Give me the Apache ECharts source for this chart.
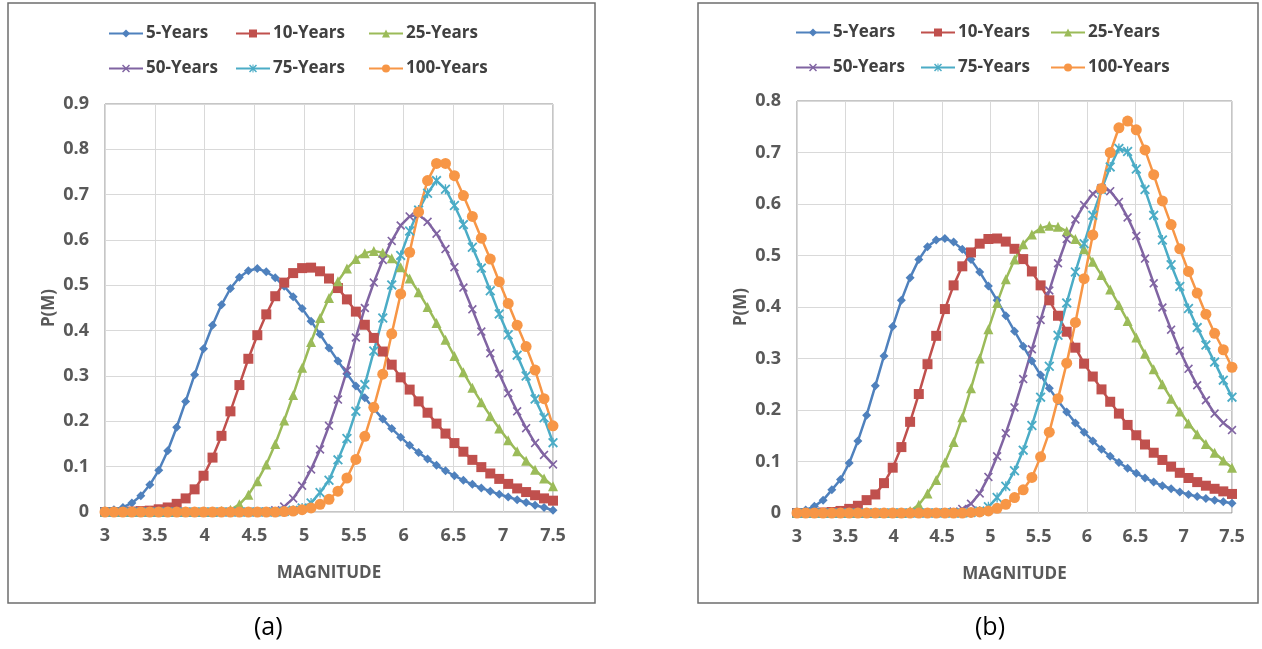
<!DOCTYPE html>
<html><head><meta charset="utf-8">
<script src="https://cdn.jsdelivr.net/npm/echarts@6/dist/echarts.min.js"></script>
<style>html,body{margin:0;padding:0;background:#fff;}#c{width:1262px;height:649px;}</style>
</head><body><div id="c"></div>
<script>
// Magnitude sample points
const magnitude = [3.00,3.09,3.18,3.27,3.36,3.45,3.54,3.63,3.72,3.81,3.90,3.99,4.08,4.17,4.26,4.35,4.44,4.53,4.62,4.71,4.80,4.89,4.98,5.07,5.16,5.25,5.34,5.43,5.52,5.61,5.70,5.79,5.88,5.97,6.06,6.15,6.24,6.33,6.42,6.51,6.60,6.69,6.78,6.87,6.96,7.05,7.14,7.23,7.32,7.41,7.50];
const seriesNames = ['5-Years','10-Years','25-Years','50-Years','75-Years','100-Years'];
const xTickLabels = ['3','3.5','4','4.5','5','5.5','6','6.5','7','7.5'];
const panelLabels = ['(a)','(b)'];

// Panel (a)
const a5   = [0.002,0.005,0.010,0.020,0.036,0.060,0.092,0.135,0.187,0.244,0.303,0.360,0.412,0.457,0.493,0.518,0.532,0.537,0.530,0.517,0.498,0.475,0.449,0.421,0.392,0.362,0.333,0.305,0.278,0.252,0.228,0.205,0.184,0.165,0.147,0.131,0.117,0.103,0.091,0.080,0.070,0.061,0.053,0.046,0.039,0.033,0.027,0.021,0.015,0.010,0.004];
const a10  = [0,0,0,0.001,0.002,0.003,0.006,0.010,0.018,0.030,0.050,0.080,0.120,0.168,0.222,0.280,0.338,0.390,0.436,0.476,0.506,0.527,0.538,0.539,0.531,0.515,0.494,0.469,0.442,0.413,0.384,0.354,0.325,0.297,0.270,0.244,0.219,0.195,0.173,0.152,0.133,0.115,0.099,0.085,0.073,0.062,0.052,0.044,0.037,0.030,0.025];
const a25  = [0,0,0,0,0,0,0,0,0,0,0,0,0,0.002,0.005,0.017,0.038,0.068,0.105,0.150,0.202,0.258,0.318,0.375,0.428,0.472,0.509,0.537,0.558,0.571,0.576,0.572,0.560,0.540,0.515,0.485,0.452,0.417,0.380,0.344,0.308,0.274,0.242,0.212,0.184,0.158,0.134,0.113,0.093,0.074,0.057];
const a50  = [0,0,0,0,0,0,0,0,0,0,0,0,0,0,0,0,0,0,0.001,0.004,0.012,0.030,0.058,0.094,0.138,0.190,0.248,0.312,0.385,0.450,0.506,0.556,0.598,0.632,0.652,0.656,0.640,0.614,0.580,0.540,0.495,0.447,0.398,0.350,0.305,0.262,0.222,0.185,0.152,0.126,0.105];
const a75  = [0,0,0,0,0,0,0,0,0,0,0,0,0,0,0,0,0,0,0,0,0.001,0.004,0.009,0.020,0.043,0.070,0.115,0.162,0.222,0.281,0.355,0.428,0.501,0.566,0.620,0.666,0.703,0.731,0.712,0.676,0.634,0.584,0.538,0.488,0.437,0.391,0.346,0.300,0.249,0.208,0.153];
const a100 = [0,0,0,0,0,0,0,0,0,0,0,0,0,0,0,0,0,0,0,0,0.001,0.002,0.005,0.009,0.017,0.028,0.046,0.075,0.116,0.167,0.231,0.304,0.393,0.481,0.573,0.662,0.731,0.769,0.769,0.742,0.698,0.652,0.604,0.558,0.508,0.460,0.412,0.365,0.313,0.250,0.190];

// Panel (b)
const b5   = [0.002,0.006,0.013,0.025,0.045,0.065,0.097,0.140,0.190,0.247,0.305,0.362,0.413,0.457,0.492,0.517,0.530,0.533,0.526,0.512,0.492,0.468,0.441,0.413,0.383,0.353,0.324,0.295,0.268,0.242,0.218,0.196,0.175,0.157,0.140,0.124,0.110,0.098,0.087,0.077,0.068,0.060,0.053,0.047,0.041,0.036,0.032,0.028,0.025,0.022,0.019];
const b10  = [0,0,0,0.001,0.002,0.004,0.008,0.014,0.025,0.036,0.058,0.088,0.128,0.177,0.231,0.289,0.344,0.396,0.442,0.479,0.506,0.523,0.532,0.533,0.527,0.513,0.493,0.469,0.442,0.413,0.383,0.352,0.321,0.290,0.265,0.240,0.216,0.193,0.171,0.151,0.133,0.117,0.103,0.090,0.078,0.068,0.060,0.053,0.047,0.042,0.037];
const b25  = [0,0,0,0,0,0,0,0,0,0,0,0,0,0.004,0.016,0.038,0.064,0.098,0.138,0.186,0.242,0.300,0.357,0.408,0.454,0.492,0.522,0.541,0.553,0.558,0.556,0.547,0.532,0.512,0.488,0.462,0.434,0.404,0.373,0.341,0.309,0.279,0.250,0.222,0.197,0.174,0.153,0.134,0.117,0.102,0.088];
const b50  = [0,0,0,0,0,0,0,0,0,0,0,0,0,0,0,0,0,0.001,0.003,0.008,0.018,0.038,0.070,0.110,0.155,0.205,0.260,0.318,0.375,0.432,0.485,0.532,0.570,0.598,0.620,0.631,0.625,0.604,0.574,0.538,0.494,0.446,0.399,0.356,0.315,0.280,0.248,0.219,0.193,0.175,0.161];
const b75  = [0,0,0,0,0,0,0,0,0,0,0,0,0,0,0,0,0,0,0,0,0.001,0.004,0.012,0.030,0.052,0.082,0.122,0.170,0.225,0.285,0.345,0.408,0.468,0.523,0.578,0.628,0.672,0.708,0.702,0.668,0.628,0.578,0.530,0.482,0.440,0.397,0.360,0.326,0.293,0.258,0.225];
const b100 = [0,0,0,0,0,0,0,0,0,0,0,0,0,0,0,0,0,0,0,0,0.001,0.002,0.004,0.009,0.017,0.030,0.045,0.069,0.109,0.157,0.222,0.291,0.370,0.455,0.540,0.630,0.700,0.748,0.761,0.744,0.705,0.657,0.606,0.560,0.513,0.469,0.427,0.386,0.349,0.317,0.283];

const colors = ['#4F81BD','#C0504D','#9BBB59','#8064A2','#4BACC6','#F79646'];
const XPATH = 'path://M0,1.3 L1.3,0 L5,3.7 L8.7,0 L10,1.3 L6.3,5 L10,8.7 L8.7,10 L5,6.3 L1.3,10 L0,8.7 L3.7,5 Z';
const STARPATH = XPATH.replace(' Z',' Z M4.35,0 L5.65,0 L5.65,10 L4.35,10 Z');
const symbols = ['diamond','rect','triangle',XPATH,STARPATH,'circle'];
const symSizes = [9,10,10,9,10,11];

const FONT = '"Open Sans", Lato, sans-serif';
const panelData = [[a5,a10,a25,a50,a75,a100],[b5,b10,b25,b50,b75,b100]];

const series = [];
panelData.forEach((arrs, p) => {
  arrs.forEach((vals, k) => {
    series.push({
      name: seriesNames[k], type: 'line', xAxisIndex: p, yAxisIndex: p,
      data: magnitude.map((m, i) => [m, vals[i]]),
      symbol: symbols[k], symbolSize: symSizes[k], showSymbol: true,
      lineStyle: { color: colors[k], width: 2.5 },
      itemStyle: { color: colors[k], borderWidth: 0 },
      emphasis: { disabled: true }, animation: false
    });
  });
});

// legends: one per item, placed in 2 rows x 3 columns per panel
const legendCols = [[108, 235, 368], [795, 920, 1050]];
const legendRows = [[25, 60], [24, 59]];
const legends = [];
[0,1].forEach(p => {
  seriesNames.forEach((nm, k) => {
    legends.push({
      data: [nm], left: legendCols[p][k % 3], top: legendRows[p][Math.floor(k / 3)],
      itemWidth: 34, itemHeight: 10, itemGap: 0, padding: 0, selectedMode: false,
      textStyle: { fontFamily: FONT, fontSize: 17, fontWeight: 'bold', color: '#404040', padding: [0,0,0,-2] }
    });
  });
});

function xAxisCfg(p) {
  return {
    gridIndex: p, type: 'value', min: 3, max: 7.5, interval: 0.5,
    axisLine: { show: false }, axisTick: { show: false },
    splitLine: { show: true, lineStyle: { color: '#D9D9D9', width: 1 } },
    axisLabel: { fontFamily: FONT, fontSize: 18, fontWeight: 'bold', color: '#595959', margin: 15,
      formatter: v => xTickLabels[Math.round((v - 3) / 0.5)] },
    name: 'MAGNITUDE', nameLocation: 'middle', nameGap: 53,
    nameTextStyle: { fontFamily: FONT, fontSize: 17, fontWeight: 'bold', color: '#595959' }
  };
}
function yAxisCfg(p, max) {
  return {
    gridIndex: p, type: 'value', min: 0, max: max, interval: 0.1,
    axisLine: { show: false }, axisTick: { show: false },
    splitLine: { show: true, lineStyle: { color: '#D9D9D9', width: 1 } },
    axisLabel: { fontFamily: FONT, fontSize: 18, fontWeight: 'bold', color: '#595959', margin: 16,
      formatter: v => v === 0 ? '0' : v.toFixed(1) },
    name: 'P(M)', nameLocation: 'middle', nameGap: 47,
    nameTextStyle: { fontFamily: FONT, fontSize: 17, fontWeight: 'bold', color: '#595959' }
  };
}

const chart = echarts.init(document.getElementById('c'), null, { renderer: 'canvas' });
chart.setOption({
  backgroundColor: '#ffffff',
  animation: false,
  color: colors,
  legend: legends,
  grid: [
    { left: 105, top: 104, width: 448, height: 408, show: true, borderColor: '#8C8C8C', borderWidth: 1, backgroundColor: 'transparent' },
    { left: 797, top: 101, width: 435, height: 412, show: true, borderColor: '#8C8C8C', borderWidth: 1, backgroundColor: 'transparent' }
  ],
  xAxis: [xAxisCfg(0), xAxisCfg(1)],
  yAxis: [yAxisCfg(0, 0.9), yAxisCfg(1, 0.8)],
  series: series,
  graphic: [
    { type: 'rect', shape: { x: 8, y: 3, width: 587, height: 600 }, style: { fill: 'none', stroke: '#6E6E6E', lineWidth: 1.5 }, silent: true },
    { type: 'rect', shape: { x: 698, y: 3, width: 560, height: 600 }, style: { fill: 'none', stroke: '#6E6E6E', lineWidth: 1.5 }, silent: true },
    { type: 'text', left: 254, top: 615, style: { text: panelLabels[0], font: '25px ' + FONT, fill: '#000' }, silent: true },
    { type: 'text', left: 975, top: 615, style: { text: panelLabels[1], font: '25px ' + FONT, fill: '#000' }, silent: true }
  ]
});
</script></body></html>
